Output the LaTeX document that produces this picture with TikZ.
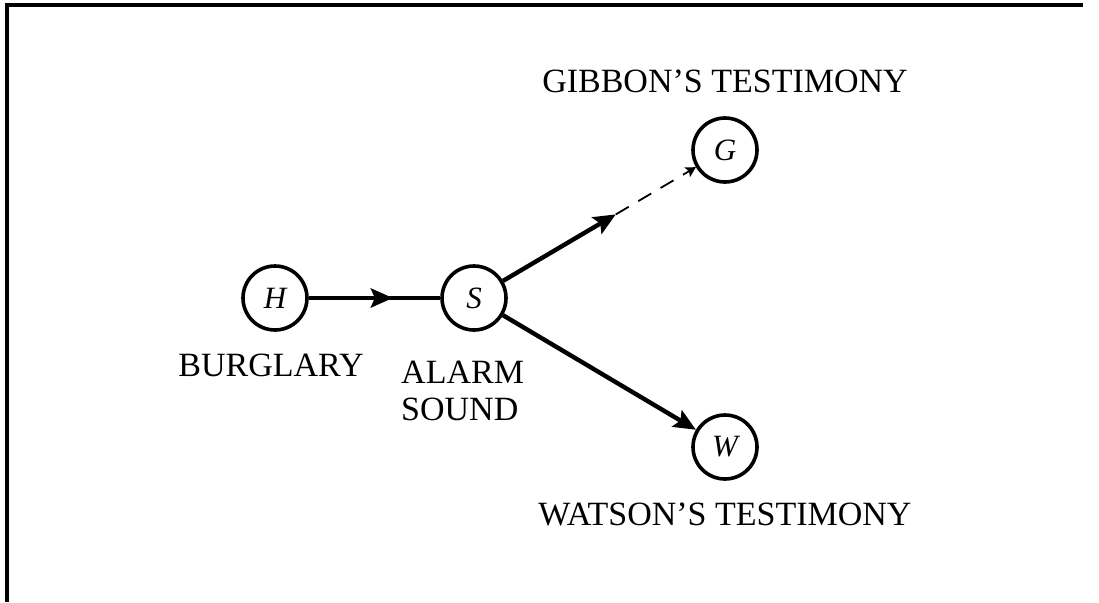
\documentclass[tikz,border=0pt]{standalone}
\usepackage{fontspec}
\setmainfont{Liberation Serif}
\usetikzlibrary{arrows.meta,decorations.markings,calc}
\begin{document}
\begin{tikzpicture}[x=1pt,y=-1pt,
  varnode/.style={circle,draw,line width=3.6pt,minimum size=64pt,inner sep=0pt,font=\fontsize{31}{35}\selectfont\itshape},
  lab/.style={font=\fontsize{34}{39}\selectfont,inner sep=0pt},
  link/.style={line width=4.4pt},
  midarrow/.style={decoration={markings,mark=at position #1 with {\arrow{Stealth[inset=4pt,length=22pt,width=19pt]}}},postaction={decorate}},
  tiparrow/.style={-{Stealth[inset=4pt,length=22pt,width=19pt]}},
  thinarrow/.style={line width=1.8pt,dash pattern=on 15pt off 11pt,-{Stealth[inset=2pt,length=10pt,width=11pt]}}
]
\useasboundingbox (0,0) rectangle (1099,602);
\coordinate (fTL) at (7,5);
\coordinate (fTR) at (1083,5);
\coordinate (fBL) at (7,602);
\draw[line width=3.5pt] (fTR) -- (fTL) -- (fBL);

\node[varnode] (H) at (275,298) {H};
\node[varnode] (S) at (474,298) {S};
\node[varnode] (G) at (725,150) {G};
\node[varnode] (W) at (725,447) {W};

\node[lab,anchor=base] (lg) at (725,92) {GIBBON’S TESTIMONY};
\node[lab,anchor=base] (lw) at (725,525) {WATSON’S TESTIMONY};
\node[lab,anchor=base] (lb) at (271,376) {BURGLARY};
\node[lab,anchor=base west] (la) at (401,383) {ALARM};
\node[lab,anchor=base west] (ls) at (401,420) {SOUND};

\draw[link,midarrow=0.64] (H) -- (S);
\coordinate (M) at ($(S)!0.565!(G)$);
\draw[link,tiparrow] (S) -- (M);
\draw[thinarrow] (M) -- (G);
\draw[link,tiparrow] (S) -- (W);
\end{tikzpicture}
\end{document}
